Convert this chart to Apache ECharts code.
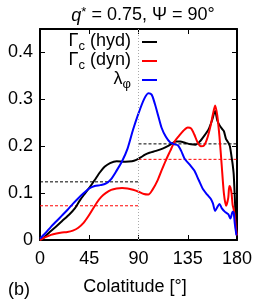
<!DOCTYPE html>
<html>
<head>
<meta charset="utf-8">
<script src="https://cdn.jsdelivr.net/npm/echarts@6/dist/echarts.min.js"></script>
<style>html,body{margin:0;padding:0;background:#fff}#c{width:258px;height:301px}</style>
</head>
<body>
<div id="c"></div>
<script>
const xTicks = [0, 45, 90, 135, 180];
const yTicks = [0, 0.1, 0.2, 0.3, 0.4];

const hydCurve = [[0,0.0],[3,0.004],[8,0.015],[14,0.027],[20,0.04],[27,0.055],[32,0.068],[36,0.083],[40,0.096],[45,0.111],[50,0.128],[55,0.145],[59,0.156],[64,0.164],[70,0.168],[78,0.167],[84,0.168],[88,0.171],[92,0.176],[96,0.182],[100,0.186],[106,0.19],[112,0.195],[118,0.202],[124,0.21],[128,0.21],[133,0.207],[138,0.204],[142,0.203],[146,0.21],[150,0.222],[154,0.236],[157,0.254],[160,0.275],[162,0.255],[164,0.245],[166,0.238],[168,0.232],[170,0.215],[172,0.208],[173.5,0.2],[175,0.178],[176,0.162],[177,0.14],[178,0.09],[179,0.04],[180,0.01]];

const dynCurve = [[0,0.0],[5,0.006],[10,0.011],[15,0.014],[20,0.016],[25,0.017],[30,0.02],[35,0.026],[40,0.037],[44,0.05],[48,0.065],[52,0.08],[56,0.092],[60,0.1],[65,0.107],[70,0.11],[75,0.111],[80,0.11],[85,0.107],[90,0.103],[95,0.098],[99,0.097],[103,0.108],[107,0.125],[111,0.148],[115,0.17],[119,0.19],[123,0.21],[127,0.222],[131,0.233],[135,0.24],[138,0.238],[141,0.225],[144,0.208],[147,0.2],[150,0.202],[153,0.218],[156,0.245],[158,0.268],[160,0.287],[162,0.265],[164,0.22],[166,0.16],[168,0.1],[170,0.073],[172,0.09],[173,0.115],[174,0.112],[175,0.1],[176,0.075],[177,0.065],[178,0.05],[179,0.025],[180,0.01]];

const lambdaCurve = [[0,0.003],[5,0.015],[10,0.028],[15,0.04],[20,0.052],[25,0.064],[30,0.077],[35,0.089],[40,0.1],[45,0.11],[50,0.115],[55,0.117],[60,0.12],[65,0.13],[70,0.148],[75,0.168],[80,0.195],[85,0.235],[90,0.27],[95,0.3],[99,0.313],[102,0.31],[105,0.29],[108,0.265],[111,0.24],[115,0.22],[119,0.208],[123,0.204],[126,0.202],[129,0.19],[132,0.174],[137,0.16],[141,0.148],[145,0.128],[149,0.108],[153,0.096],[156,0.088],[158,0.078],[160,0.062],[162,0.07],[164,0.077],[166,0.068],[169,0.06],[172,0.055],[174,0.046],[176,0.06],[177,0.058],[178,0.035],[179.5,0.01]];

const hydMeanNorth = [[0,0.124],[90,0.124]];
const hydMeanSouth = [[90,0.205],[180,0.205]];
const dynMeanNorth = [[0,0.073],[90,0.073]];
const dynMeanSouth = [[90,0.172],[180,0.172]];
const equatorX = 90;

const FONT = 'Liberation Sans, Arial, Helvetica, sans-serif';
const chart = echarts.init(document.getElementById('c'), null, {renderer: 'canvas'});

const baseX = {
  type: 'value', min: 0, max: 180, interval: 45,
  axisLine: {show: true, onZero: false, lineStyle: {color: '#000', width: 2}},
  axisTick: {show: true, inside: true, length: 5, lineStyle: {color: '#000', width: 1}},
  splitLine: {show: false}
};
const baseY = {
  type: 'value', min: 0, max: 0.45, interval: 0.1,
  axisLine: {show: true, onZero: false, lineStyle: {color: '#000', width: 2}},
  axisTick: {show: true, inside: true, length: 5, lineStyle: {color: '#000', width: 1}},
  splitLine: {show: false}
};

const dashed = (data, color) => ({
  type: 'line', data, symbol: 'none', silent: true, z: 1,
  lineStyle: {color, width: 1, type: [3, 2]}
});

chart.setOption({
  animation: false,
  backgroundColor: '#fff',
  title: {
    text: '{i|q}{sup|*}{n| = 0.75, Ψ = 90°}',
    left: 138, top: 1, textAlign: 'center',
    textStyle: {
      fontWeight: 'normal',
      rich: {
        i: {fontFamily: FONT, fontSize: 18, fontStyle: 'italic', fontWeight: 'normal', color: '#000'},
        sup: {fontFamily: FONT, fontSize: 13, fontWeight: 'normal', color: '#000', verticalAlign: 'top', padding: [0, 0, 6, 0]},
        n: {fontFamily: FONT, fontSize: 18, fontWeight: 'normal', color: '#000'}
      }
    }
  },
  grid: {left: 40, right: 21, top: 29, bottom: 58, containLabel: false},
  xAxis: [
    Object.assign({}, baseX, {
      position: 'bottom',
      axisLabel: {show: true, fontFamily: FONT, fontSize: 18, color: '#000', margin: 10,
        customValues: xTicks},
      name: 'Colatitude [°]', nameLocation: 'middle', nameGap: 38,
      nameTextStyle: {fontFamily: FONT, fontSize: 18, color: '#000', padding: [0, 7, 0, 0]}
    }),
    Object.assign({}, baseX, {position: 'top', axisLabel: {show: false}})
  ],
  yAxis: [
    Object.assign({}, baseY, {
      position: 'left',
      axisLabel: {show: true, fontFamily: FONT, fontSize: 18, color: '#000', margin: 7,
        customValues: yTicks, formatter: v => (v === 0 ? '0' : v.toFixed(1))}
    }),
    Object.assign({}, baseY, {position: 'right', axisLabel: {show: false}})
  ],
  graphic: [
    {type: 'text', x: 131, y: 41, style: {
      text: '{a|Γ}{s|c}{a| (hyd)}', align: 'right', verticalAlign: 'middle',
      rich: {a: {fontFamily: FONT, fontSize: 18, fill: '#000'},
             s: {fontFamily: FONT, fontSize: 13, fill: '#000', padding: [10, 0, 0, 0]}}}},
    {type: 'text', x: 131, y: 60, style: {
      text: '{a|Γ}{s|c}{a| (dyn)}', align: 'right', verticalAlign: 'middle',
      rich: {a: {fontFamily: FONT, fontSize: 18, fill: '#000'},
             s: {fontFamily: FONT, fontSize: 13, fill: '#000', padding: [10, 0, 0, 0]}}}},
    {type: 'text', x: 131, y: 79, style: {
      text: '{a|λ}{s|φ}', align: 'right', verticalAlign: 'middle',
      rich: {a: {fontFamily: FONT, fontSize: 18, fill: '#000'},
             s: {fontFamily: FONT, fontSize: 13, fill: '#000', padding: [10, 0, 0, 0]}}}},
    {type: 'line', shape: {x1: 142, y1: 42, x2: 157, y2: 42}, style: {stroke: '#000', lineWidth: 2}},
    {type: 'line', shape: {x1: 142, y1: 61, x2: 157, y2: 61}, style: {stroke: '#ff0000', lineWidth: 2}},
    {type: 'line', shape: {x1: 142, y1: 80, x2: 157, y2: 80}, style: {stroke: '#0000ff', lineWidth: 2}},
    {type: 'text', x: 8, y: 290, style: {text: '(b)', fontFamily: FONT, fontSize: 18, fill: '#000', verticalAlign: 'middle'}}
  ],
  series: [
    Object.assign(dashed(hydMeanNorth, '#000'), {
      markLine: {silent: true, symbol: 'none', label: {show: false},
        lineStyle: {color: '#aaaaaa', width: 1, type: [1, 2]},
        data: [{xAxis: equatorX}]}
    }),
    dashed(hydMeanSouth, '#000'),
    dashed(dynMeanNorth, '#ff0000'),
    dashed(dynMeanSouth, '#ff0000'),
    {type: 'line', data: hydCurve, symbol: 'none', smooth: 0.25, z: 3,
      lineStyle: {color: '#000', width: 2}},
    {type: 'line', data: dynCurve, symbol: 'none', smooth: 0.25, z: 3,
      lineStyle: {color: '#ff0000', width: 2}},
    {type: 'line', data: lambdaCurve, symbol: 'none', smooth: 0.25, z: 3,
      lineStyle: {color: '#0000ff', width: 2}}
  ]
});
</script>
</body>
</html>
